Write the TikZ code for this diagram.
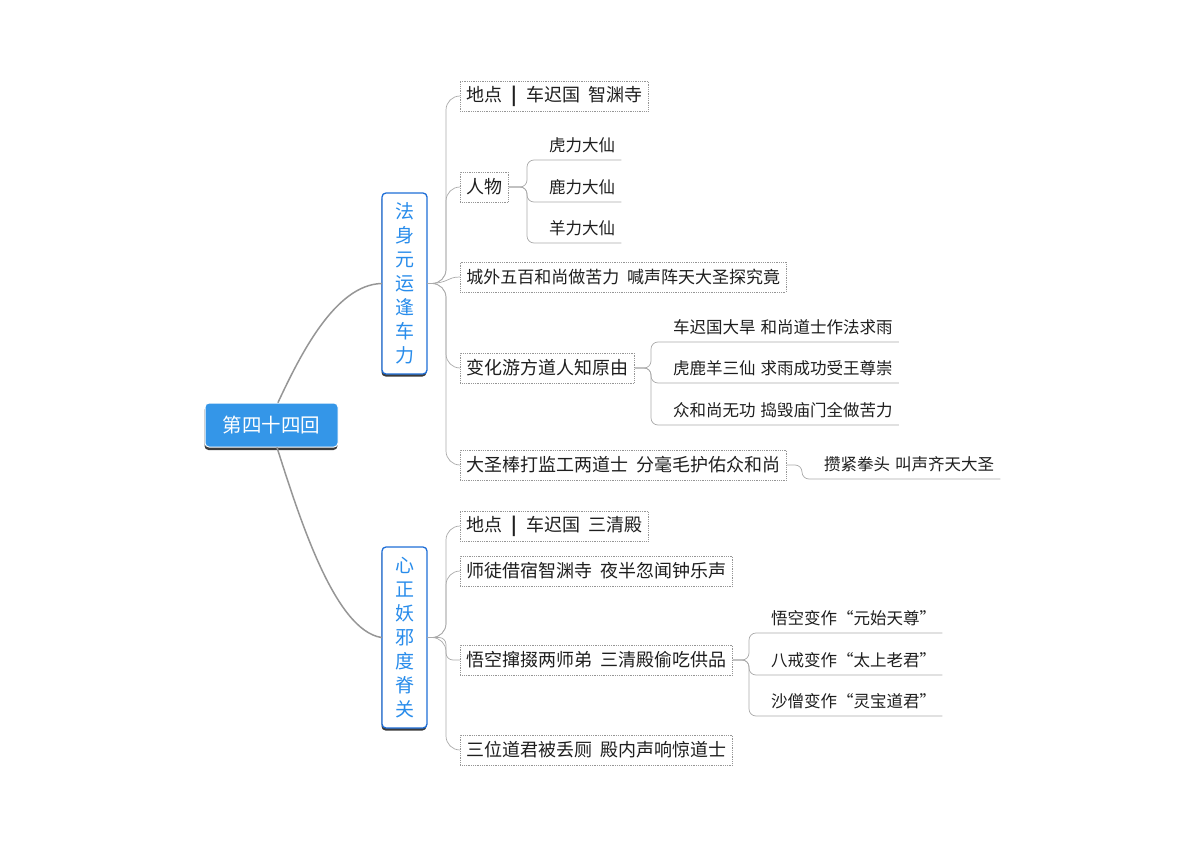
\documentclass[tikz,border=0pt]{standalone}
\usepackage{fontspec}
\setmainfont{Noto Sans CJK SC}
\usetikzlibrary{shadows}
\definecolor{rootblue}{RGB}{52,150,232}
\definecolor{branchblue}{RGB}{30,110,215}
\definecolor{branchtext}{RGB}{40,140,235}
\definecolor{conncol}{RGB}{170,170,170}
\definecolor{maincol}{RGB}{150,150,150}
\definecolor{boxcol}{RGB}{150,150,150}
\definecolor{txt}{RGB}{30,30,30}
\newcommand\gapB{\hspace{0.5em}}
\newcommand\gapS{\hspace{0.45em}}
\newcommand\gapW{\hspace{0.45em}}
\newcommand\gapL{\hspace{0.3em}}
\tikzset{
  conn/.style={draw=conncol, line width=0.7pt, rounded corners=14pt},
  subconn/.style={draw=conncol, line width=0.7pt, rounded corners=7pt},
  mainconn/.style={draw=maincol, line width=1.5pt, line cap=round},
  childbox/.style={draw=boxcol, densely dotted, line width=0.8pt, anchor=west,
    minimum height=30pt, inner xsep=6pt, inner ysep=0pt, text=txt,
    font=\fontsize{18}{20}\selectfont},
  leaf/.style={anchor=south west, inner xsep=6pt, inner ysep=6pt,
    text height=13pt, text depth=2pt, text=txt, font=\fontsize{16.5}{18}\selectfont},
  branchbox/.style={draw=branchblue, line width=1.3pt, rounded corners=4pt, fill=white,
    minimum width=45pt, minimum height=181pt, text=branchtext, align=center,
    inner sep=0pt, font=\fontsize{19}{24}\selectfont,
    drop shadow={shadow xshift=-0.5pt, shadow yshift=-2.5pt, fill=black!85, opacity=0.9}},
  rootbox/.style={draw=white, line width=1pt, rounded corners=4pt, fill=rootblue,
    minimum width=133pt, minimum height=44pt, text=white, inner sep=0pt,
    font=\fontsize{19.5}{22}\selectfont,
    drop shadow={shadow xshift=-0.5pt, shadow yshift=-3pt, fill=black!85, opacity=0.9}},
}
\begin{document}
\begin{tikzpicture}[x=1pt,y=-1pt]
\useasboundingbox (0,0) rectangle (1200,845);

% root and branches
\node[rootbox] (root) at (271.5,425) {第四十四回};
\node[branchbox] (b1) at (404.5,283.5) {法\\身\\元\\运\\逢\\车\\力};
\node[branchbox] (b2) at (404.5,637.5) {心\\正\\妖\\邪\\度\\脊\\关};

% main curves
\draw[mainconn] ([xshift=6.5pt]root.north) .. controls +(22,-47) and +(-46.5,1.5) .. (b1.west);
\draw[mainconn] ([xshift=5.5pt]root.south) .. controls +(23,72) and +(-46.5,-7.5) .. (b2.west);

% branch 1 children
\node[childbox] (c11) at (460,96) {地点\gapB{\bfseries |}\gapB 车迟国\gapS 智渊寺};
\node[childbox] (c12) at (460,187) {人物};
\node[childbox, font=\fontsize{17}{20}\selectfont] (c13) at (460,277) {城外五百和尚做苦力\gapW 喊声阵天大圣探究竟};
\node[childbox] (c14) at (460,368) {变化游方道人知原由};
\node[childbox] (c15) at (460,465) {大圣棒打监工两道士\gapW 分毫毛护佑众和尚};

\coordinate (j1) at (446,283.5);
\draw[conn] (b1.east) -- (j1) |- (c11.west);
\draw[conn] (b1.east) -- (j1) |- (c12.west);
\draw[conn] (b1.east) .. controls +(22,0) and +(-14,0) .. (c13.west);
\draw[conn] (b1.east) -- (j1) |- (c14.west);
\draw[conn] (b1.east) -- (j1) |- (c15.west);

% leaves of 人物
\coordinate (j12) at (527,187);
\node[leaf] (l121) at (543,160) {虎力大仙};
\node[leaf] (l122) at (543,202) {鹿力大仙};
\node[leaf] (l123) at (543,243) {羊力大仙};
\draw[subconn] (c12.east) -- (j12) |- (l121.south west) -- (l121.south east);
\draw[subconn] (c12.east) -- (j12) |- (l122.south west) -- (l122.south east);
\draw[subconn] (c12.east) -- (j12) |- (l123.south west) -- (l123.south east);

% leaves of 变化游方道人知原由
\coordinate (j14) at (651,368);
\node[leaf] (l141) at (667,342) {车迟国大旱\gapL 和尚道士作法求雨};
\node[leaf] (l142) at (667,383) {虎鹿羊三仙\gapL 求雨成功受王尊崇};
\node[leaf] (l143) at (667,425) {众和尚无功\gapL 捣毁庙门全做苦力};
\draw[subconn] (c14.east) -- (j14) |- (l141.south west) -- (l141.south east);
\draw[subconn] (c14.east) -- (j14) |- (l142.south west) -- (l142.south east);
\draw[subconn] (c14.east) -- (j14) |- (l143.south west) -- (l143.south east);

% leaf of 大圣棒打
\coordinate (j15) at (802,465);
\node[leaf] (l151) at (818,479) {攒紧拳头\gapL 叫声齐天大圣};
\draw[subconn] (c15.east) -- (j15) |- (l151.south west) -- (l151.south east);

% branch 2 children
\node[childbox] (c21) at (460,526) {地点\gapB{\bfseries |}\gapB 车迟国\gapS 三清殿};
\node[childbox] (c22) at (460,571) {师徒借宿智渊寺\gapW 夜半忽闻钟乐声};
\node[childbox] (c23) at (460,660) {悟空撺掇两师弟\gapW 三清殿偷吃供品};
\node[childbox] (c24) at (460,750) {三位道君被丢厕\gapW 殿内声响惊道士};

\coordinate (j2) at (446,637.5);
\draw[conn] (b2.east) -- (j2) |- (c21.west);
\draw[conn] (b2.east) -- (j2) |- (c22.west);
\draw[subconn] (b2.east) -- (j2) |- (c23.west);
\draw[conn] (b2.east) -- (j2) |- (c24.west);

% leaves of 悟空撺掇
\coordinate (j23) at (749,660);
\node[leaf] (l231) at (765,633) {悟空变作“元始天尊”};
\node[leaf] (l232) at (765,675) {八戒变作“太上老君”};
\node[leaf] (l233) at (765,716) {沙僧变作“灵宝道君”};
\draw[subconn] (c23.east) -- (j23) |- (l231.south west) -- (l231.south east);
\draw[subconn] (c23.east) -- (j23) |- (l232.south west) -- (l232.south east);
\draw[subconn] (c23.east) -- (j23) |- (l233.south west) -- (l233.south east);
\end{tikzpicture}
\end{document}
